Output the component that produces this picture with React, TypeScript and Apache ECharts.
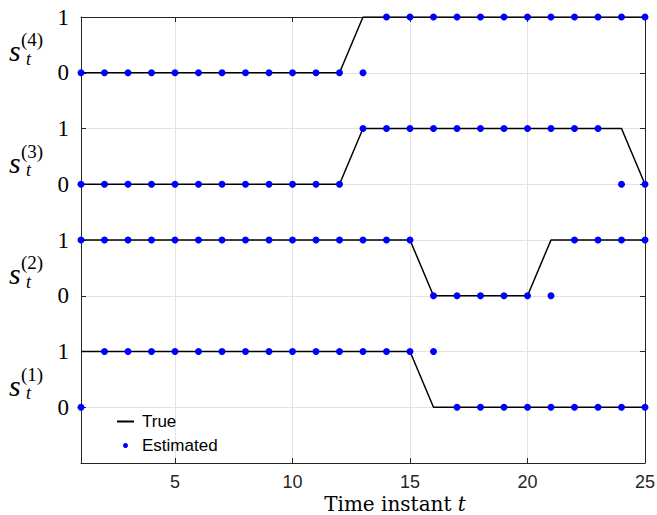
import React, { useEffect, useRef } from 'react';
import * as echarts from 'echarts';

const timeSteps = [1, 2, 3, 4, 5, 6, 7, 8, 9, 10, 11, 12, 13, 14, 15, 16, 17, 18, 19, 20, 21, 22, 23, 24, 25];

const trueS1 = [1, 1, 1, 1, 1, 1, 1, 1, 1, 1, 1, 1, 1, 1, 1, 0, 0, 0, 0, 0, 0, 0, 0, 0, 0];
const estS1 = [0, 1, 1, 1, 1, 1, 1, 1, 1, 1, 1, 1, 1, 1, 1, 1, 0, 0, 0, 0, 0, 0, 0, 0, 0];
const trueS2 = [1, 1, 1, 1, 1, 1, 1, 1, 1, 1, 1, 1, 1, 1, 1, 0, 0, 0, 0, 0, 1, 1, 1, 1, 1];
const estS2 = [1, 1, 1, 1, 1, 1, 1, 1, 1, 1, 1, 1, 1, 1, 1, 0, 0, 0, 0, 0, 0, 1, 1, 1, 1];
const trueS3 = [0, 0, 0, 0, 0, 0, 0, 0, 0, 0, 0, 0, 1, 1, 1, 1, 1, 1, 1, 1, 1, 1, 1, 1, 0];
const estS3 = [0, 0, 0, 0, 0, 0, 0, 0, 0, 0, 0, 0, 1, 1, 1, 1, 1, 1, 1, 1, 1, 1, 1, 0, 0];
const trueS4 = [0, 0, 0, 0, 0, 0, 0, 0, 0, 0, 0, 0, 1, 1, 1, 1, 1, 1, 1, 1, 1, 1, 1, 1, 1];
const estS4 = [0, 0, 0, 0, 0, 0, 0, 0, 0, 0, 0, 0, 0, 1, 1, 1, 1, 1, 1, 1, 1, 1, 1, 1, 1];

const trueSeries = [trueS1, trueS2, trueS3, trueS4];
const estSeries = [estS1, estS2, estS3, estS4];
const stateNames = ['(1)', '(2)', '(3)', '(4)'];
const xTicks = [5, 10, 15, 20, 25];
const yTickLabels = ['0', '1'];

const SERIF = '"Liberation Serif", "Times New Roman", serif';
const WIDE_SERIF = '"DejaVu Serif", "Liberation Serif", serif';
const SANS = '"Liberation Sans", Arial, Helvetica, sans-serif';
const AXIS = '#262626';
const GRID = '#e3e3e3';

export default function App() {
  const ref = useRef<HTMLDivElement>(null);
  useEffect(() => {
    const chart = echarts.init(ref.current!, null, { renderer: 'svg' });
    const series: any[] = [];
    trueSeries.forEach((vals, k) => {
      series.push({
        name: 'True',
        type: 'line',
        data: timeSteps.map((t, i) => [t, vals[i] + 2 * k]),
        symbol: 'none',
        lineStyle: { color: '#000', width: 1.5 },
        itemStyle: { color: '#000' },
        z: 2,
      });
    });
    estSeries.forEach((vals, k) => {
      series.push({
        name: 'Estimated',
        type: 'scatter',
        data: timeSteps.map((t, i) => [t, vals[i] + 2 * k]),
        symbol: 'circle',
        symbolSize: 7,
        itemStyle: { color: '#0000ff', opacity: 1 },
        z: 3,
      });
    });
    const option: any = {
      animation: false,
      backgroundColor: '#fff',
      grid: { left: 81, right: 12, top: 17, bottom: 52, containLabel: false, outerBoundsMode: 'none' },
      legend: {
        data: [{ name: 'True', itemStyle: { opacity: 0 } }, { name: 'Estimated' }],
        orient: 'vertical',
        left: 111,
        top: 408,
        itemWidth: 17,
        itemHeight: 5,
        itemGap: 7,
        textStyle: { fontFamily: SANS, fontSize: 17, color: '#000', padding: [0, 0, 0, 3] },
        selectedMode: false,
      },
      xAxis: [
        {
          type: 'value',
          min: 1,
          max: 25,
          position: 'bottom',
          name: '{a|Time instant }{b|t}',
          nameLocation: 'middle',
          nameGap: 31,
          nameMoveOverlap: false,
          nameTextStyle: {
            padding: [0, 0, 0, 64],
            lineHeight: 20,
            rich: {
              a: { fontFamily: WIDE_SERIF, fontSize: 20, lineHeight: 20, color: '#000' },
              b: { fontFamily: WIDE_SERIF, fontSize: 20, lineHeight: 20, fontStyle: 'italic', color: '#000' },
            },
          },
          axisLine: { show: true, onZero: false, lineStyle: { color: AXIS, width: 1 } },
          axisTick: { show: true, inside: true, length: 5, customValues: xTicks, lineStyle: { color: AXIS } },
          axisLabel: { customValues: xTicks, fontFamily: SANS, fontSize: 18, lineHeight: 18, color: '#262626', margin: 10 },
          splitLine: { show: true, lineStyle: { color: GRID, width: 1 } },
        },
        {
          type: 'value',
          min: 1,
          max: 25,
          position: 'top',
          axisLine: { show: true, onZero: false, lineStyle: { color: AXIS, width: 1 } },
          axisTick: { show: true, inside: true, length: 5, customValues: xTicks, lineStyle: { color: AXIS } },
          axisLabel: { show: false },
          splitLine: { show: false },
        },
      ],
      yAxis: [
        {
          type: 'value',
          min: -1,
          max: 7,
          interval: 1,
          position: 'left',
          axisLine: { show: true, onZero: false, lineStyle: { color: AXIS, width: 1 } },
          axisTick: { show: true, inside: true, length: 5, lineStyle: { color: AXIS } },
          axisLabel: {
            formatter: (v: number) => (v < 0 ? '' : yTickLabels[v % 2]),
            fontFamily: SERIF,
            fontSize: 23,
            color: '#000',
            margin: 12,
          },
          splitLine: { show: true, lineStyle: { color: GRID, width: 1 } },
        },
        {
          type: 'value',
          min: -1,
          max: 7,
          interval: 1,
          position: 'right',
          axisLine: { show: true, onZero: false, lineStyle: { color: AXIS, width: 1 } },
          axisTick: { show: true, inside: true, length: 5, lineStyle: { color: AXIS } },
          axisLabel: { show: false },
          splitLine: { show: false },
        },
      ],
      series,
    };
    chart.setOption(option);

    const graphics: any[] = [];
    stateNames.forEach((nm, k) => {
      const mid = chart.convertToPixel({ yAxisIndex: 0 }, 2 * k + 0.5) as number;
      graphics.push({
        type: 'text',
        x: 9,
        y: mid + 6,
        style: { text: 's', font: `italic 30px ${SERIF}`, fill: '#000', verticalAlign: 'middle', align: 'left' },
      });
      graphics.push({
        type: 'text',
        x: 26,
        y: mid + 14,
        style: { text: 't', font: `italic 18px ${SERIF}`, fill: '#000', verticalAlign: 'middle', align: 'left' },
      });
      graphics.push({
        type: 'text',
        x: 21,
        y: mid - 5,
        style: { text: nm, font: `19px ${SERIF}`, fill: '#000', verticalAlign: 'middle', align: 'left' },
      });
    });
    chart.setOption({ graphic: graphics });

    return () => chart.dispose();
  }, []);
  return <div ref={ref} style={{ position: 'fixed', left: 0, top: 0, width: 657, height: 515 }} />;
}
